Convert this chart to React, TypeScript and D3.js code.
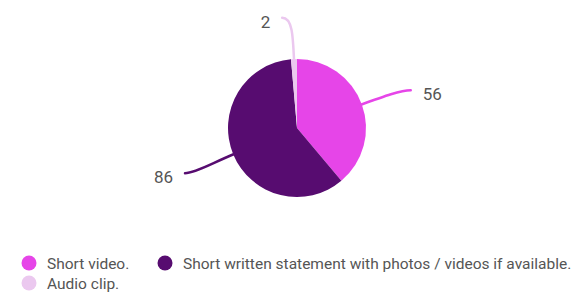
import React from "react";
import * as d3 from "d3";

const categories = ["Short video.", "Short written statement with photos / videos if available.", "Audio clip."];
const values = [56, 86, 2];
const colors = ["#e645e8", "#570c70", "#ebc8ef"];
const legendOrder = [0, 1, 2];

const W = 579;
const H = 296;
const cx = 297;
const cy = 128;
const R = 69;

export default function App() {
  const pie = d3.pie<number>().sort(null).value((d) => d);
  const arcs = pie(values);
  const arcGen = d3.arc<d3.PieArcDatum<number>>().innerRadius(0).outerRadius(R);

  const pt = (a: number, r: number) => [Math.sin(a) * r, -Math.cos(a) * r];

  return (
    <svg width={W} height={H} style={{ position: "absolute", left: 0, top: 0, background: "#fff" }}>
      <rect width={W} height={H} fill="#fff" />
      <g transform={`translate(${cx},${cy})`}>
        {arcs.map((a, i) => (
          <path key={i} d={arcGen(a) || ""} fill={colors[i]} stroke="none" />
        ))}
        {arcs.map((a, i) => {
          const mid = (a.startAngle + a.endAngle) / 2;
          const side = Math.sin(mid) >= 0 ? 1 : -1;
          const s = pt(mid, R - 1);
          const c1 = pt(mid, R * 1.35);
          const o = pt(mid, R * 1.6);
          const down = Math.cos(mid) < 0 ? 3 : 0;
          const e = [o[0] + side * 10, o[1] + down];
          const p = d3.path();
          p.moveTo(s[0], s[1]);
          p.bezierCurveTo(c1[0], c1[1], o[0], o[1] + down, e[0], e[1]);
          return (
            <g key={"l" + i}>
              <path d={p.toString()} fill="none" stroke={colors[i]} strokeWidth={2.5} strokeLinecap="round" />
              <text
                x={e[0] + side * 12}
                y={e[1] + 4}
                dy="0.35em"
                textAnchor={side > 0 ? "start" : "end"}
                fontFamily="Roboto, sans-serif"
                fontSize={17}
                fill="#555"
              >
                {values[i]}
              </text>
            </g>
          );
        })}
      </g>
      <g fontFamily="Roboto, sans-serif" fontSize={15.5} fill="#555">
        {legendOrder.map((k, j) => {
          const x = j === 1 ? 165 : 29;
          const y = j === 2 ? 283 : 263;
          return (
            <g key={"lg" + k}>
              <circle cx={x} cy={y} r={7.5} fill={colors[k]} />
              <text x={x + 18} y={y} dy="0.38em">
                {categories[k]}
              </text>
            </g>
          );
        })}
      </g>
    </svg>
  );
}
